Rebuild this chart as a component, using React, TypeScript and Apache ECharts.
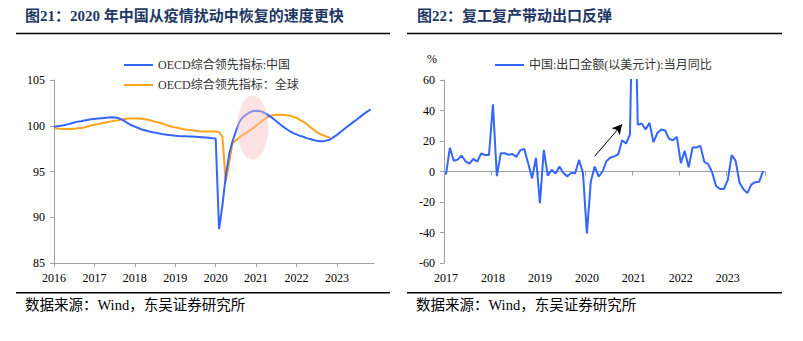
import React, { useEffect, useRef } from 'react';
import * as echarts from 'echarts';

// ---------- Left chart: OECD composite leading indicators (monthly, Jan 2016 – Dec 2023)
const CLI_YEARS = [2016, 2017, 2018, 2019, 2020, 2021, 2022, 2023];
const CLI_CHINA_NAME = 'OECD综合领先指标:中国';
const CLI_GLOBAL_NAME = 'OECD综合领先指标：全球';
const cliChina = [
  99.9, 99.95, 100.0, 100.05, 100.15, 100.25, 100.35, 100.45, 100.5, 100.58, 100.64, 100.7,
  100.74, 100.78, 100.82, 100.86, 100.9, 100.92, 100.9, 100.85, 100.7, 100.5, 100.25, 100.05,
  99.9, 99.75, 99.6, 99.5, 99.4, 99.32, 99.25, 99.17, 99.1, 99.05, 99.0, 98.95,
  98.9, 98.87, 98.85, 98.85, 98.83, 98.82, 98.8, 98.78, 98.75, 98.72, 98.68, 98.63,
  98.6, 88.7, 91.3, 94.5, 96.9, 98.3, 99.4, 100.4, 100.9, 101.2, 101.45, 101.6,
  101.65, 101.6, 101.5, 101.3, 101.05, 100.8, 100.5, 100.2, 99.9, 99.65, 99.4, 99.2,
  99.05, 98.9, 98.8, 98.65, 98.55, 98.45, 98.35, 98.3, 98.3, 98.4, 98.5, 98.75,
  99.0, 99.3, 99.6, 99.9, 100.15, 100.45, 100.7, 101.0, 101.3, 101.55, 101.8,
];
const cliGlobal = [
  99.75, 99.7, 99.67, 99.65, 99.65, 99.65, 99.68, 99.72, 99.75, 99.82, 99.92, 100.02,
  100.1, 100.18, 100.25, 100.32, 100.4, 100.48, 100.55, 100.6, 100.67, 100.73, 100.78, 100.8,
  100.8, 100.8, 100.77, 100.72, 100.65, 100.55, 100.45, 100.35, 100.25, 100.12, 100.0, 99.9,
  99.82, 99.75, 99.68, 99.6, 99.55, 99.5, 99.45, 99.4, 99.38, 99.38, 99.38, 99.38,
  99.38, 99.3, 98.8, 93.9, 96.0, 98.1, 98.4, 98.7, 99.0, 99.2, 99.45, 99.7,
  100.0, 100.3, 100.6, 100.85, 101.05, 101.15, 101.2, 101.2, 101.2, 101.15, 101.1, 101.0,
  100.85, 100.65, 100.45, 100.2, 99.9, 99.6, 99.3, 99.1, 98.95, 98.8, 98.7,
];
// highlighted recovery region: centre (month index, value) and half-extent (months, value units)
const HIGHLIGHT = { x: 59, y: 99.8, rx: 4.6, ry: 3.5 };

// ---------- Right chart: China export YoY (monthly, Feb 2017 – Nov 2023)
const EXPORT_NAME = '中国:出口金额(以美元计):当月同比';
const EXPORT_START = { year: 2017, month: 2 };
const exportYoY = [
  -2, 15.5, 7, 7.8, 10.5, 6.7, 5.2, 8.3, 6.5, 11.8, 10.8,
  10.8, 44, -3, 12, 12, 11, 11.5, 9.6, 14, 14.7, 5.4, -4.5,
  9, -20.7, 14.2, -2.7, 1.1, -1.3, 3.3, -1.0, -3.2, -0.9, -1.1, 7.6,
  -1, -40.6, -6.6, 3.2, -3.3, 0, 6.8, 9.2, 9.9, 11.2, 20.5, 18.3,
  24.3, 154.9, 30.6, 31.5, 27.6, 31.9, 19.2, 25.2, 27.5, 26.9, 21.4, 20.5,
  22.7, 5.5, 13.5, 2.8, 15.8, 15.8, 16.8, 6.3, 4.8, -0.6, -9.5, -11.5,
  -11.5, -5.5, 10.8, 7.0, -7.4, -11.6, -14.2, -8.6, -7.0, -6.8, 0.3,
];
// arrow annotation: from (month index, value) to (month index, value)
const ARROW = { from: [38, 10], to: [45, 31] };

const TITLE_LEFT = '图21：2020 年中国从疫情扰动中恢复的速度更快';
const TITLE_RIGHT = '图22：复工复产带动出口反弹';
const SOURCE = '数据来源：Wind，东吴证券研究所';

// categories
const cliCats: string[] = [];
CLI_YEARS.forEach((y) => {
  for (let m = 1; m <= 12; m++) cliCats.push(`${y}-${String(m).padStart(2, '0')}`);
});
const exportCats: string[] = exportYoY.map((_, i) => {
  const t = EXPORT_START.year * 12 + (EXPORT_START.month - 1) + i;
  return `${Math.floor(t / 12)}-${String((t % 12) + 1).padStart(2, '0')}`;
});

const SERIF = "'Liberation Serif', 'Times New Roman', 'Noto Sans CJK SC', serif";
const AXIS_GREY = '#a0a0a0';
const BLUE = '#3366ff';
const ORANGE = '#ffa31a';
const TITLE_COLOR = '#1f3864';

export default function App() {
  const ref = useRef<HTMLDivElement>(null);
  useEffect(() => {
    if (!ref.current) return;
    const chart = echarts.init(ref.current, undefined, { renderer: 'svg' });
    const yearTick = (i: number) => i % 12 === 0;
    const axisLabelStyle = { fontFamily: SERIF, fontSize: 12, color: '#000' };
    chart.setOption({
      animation: false,
      backgroundColor: '#fff',
      grid: [
        { left: 54, top: 80, width: 320, height: 183, outerBoundsMode: 'none', containLabel: false },
        { left: 444, top: 80, width: 321, height: 183, outerBoundsMode: 'none', containLabel: false },
      ],
      legend: [
        {
          data: [CLI_CHINA_NAME, CLI_GLOBAL_NAME],
          orient: 'vertical',
          left: 119,
          top: 54,
          itemWidth: 29,
          itemHeight: 2,
          itemGap: 8,
          icon: 'rect',
          selectedMode: false,
          textStyle: { fontFamily: SERIF, fontSize: 12, color: '#333' },
        },
        {
          data: [EXPORT_NAME],
          left: 490,
          top: 54,
          itemWidth: 29,
          itemHeight: 2,
          icon: 'rect',
          selectedMode: false,
          textStyle: { fontFamily: SERIF, fontSize: 12, color: '#333' },
        },
      ],
      xAxis: [
        {
          gridIndex: 0,
          type: 'category',
          boundaryGap: false,
          data: cliCats,
          axisLine: { lineStyle: { color: AXIS_GREY, width: 1 } },
          axisTick: { interval: yearTick, length: 4, lineStyle: { color: AXIS_GREY } },
          axisLabel: { ...axisLabelStyle, interval: yearTick, margin: 9, formatter: (v: string) => v.slice(0, 4) },
          splitLine: { show: false },
        },
        {
          // bottom labels of the right chart
          gridIndex: 1,
          type: 'category',
          position: 'bottom',
          boundaryGap: true,
          data: exportCats,
          axisLine: { show: false, onZero: false },
          axisTick: { show: false },
          axisLabel: { ...axisLabelStyle, interval: yearTick, margin: 9, formatter: (v: string) => v.slice(0, 4) },
          splitLine: { show: false },
        },
        {
          // zero line with year ticks of the right chart
          gridIndex: 1,
          type: 'category',
          position: 'top',
          boundaryGap: true,
          data: exportCats,
          axisLine: { show: true, onZero: true, lineStyle: { color: AXIS_GREY, width: 1 } },
          axisTick: { show: true, inside: true, interval: yearTick, length: 4, lineStyle: { color: AXIS_GREY } },
          axisLabel: { show: false },
          splitLine: { show: false },
        },
      ],
      yAxis: [
        {
          gridIndex: 0,
          type: 'value',
          min: 85,
          max: 105,
          interval: 5,
          axisLine: { show: true, lineStyle: { color: AXIS_GREY, width: 1 } },
          axisTick: { show: true, length: 4, lineStyle: { color: AXIS_GREY } },
          axisLabel: { ...axisLabelStyle, margin: 9 },
          splitLine: { show: false },
        },
        {
          gridIndex: 1,
          type: 'value',
          min: -60,
          max: 60,
          interval: 20,
          name: '%',
          nameLocation: 'end',
          nameGap: 15,
          nameTextStyle: { fontFamily: SERIF, fontSize: 12, color: '#000', align: 'right', padding: [0, 7, 0, 0] },
          axisLine: { show: true, lineStyle: { color: AXIS_GREY, width: 1 } },
          axisTick: { show: true, length: 4, lineStyle: { color: AXIS_GREY } },
          axisLabel: { ...axisLabelStyle, margin: 9 },
          splitLine: { show: false },
        },
      ],
      series: [
        {
          name: CLI_CHINA_NAME,
          type: 'line',
          xAxisIndex: 0,
          yAxisIndex: 0,
          data: cliChina,
          symbol: 'none',
          color: BLUE,
          lineStyle: { color: BLUE, width: 2 },
          z: 3,
        },
        {
          name: CLI_GLOBAL_NAME,
          type: 'line',
          xAxisIndex: 0,
          yAxisIndex: 0,
          data: cliGlobal,
          symbol: 'none',
          color: ORANGE,
          lineStyle: { color: ORANGE, width: 2 },
          z: 2,
        },
        {
          type: 'custom',
          xAxisIndex: 0,
          yAxisIndex: 0,
          silent: true,
          clip: false,
          z: 4,
          data: [[HIGHLIGHT.x, HIGHLIGHT.y]],
          encode: { x: 0, y: 1 },
          renderItem: (_params: any, api: any) => {
            const c = api.coord([api.value(0), api.value(1)]);
            const s = api.size([1, HIGHLIGHT.ry * 2]);
            return {
              type: 'ellipse',
              shape: { cx: c[0], cy: c[1], rx: s[0] * HIGHLIGHT.rx, ry: s[1] / 2 },
              style: { fill: 'rgba(248, 190, 190, 0.45)' },
            };
          },
        },
        {
          name: EXPORT_NAME,
          type: 'line',
          xAxisIndex: 1,
          yAxisIndex: 1,
          data: exportYoY,
          symbol: 'none',
          color: BLUE,
          lineStyle: { color: BLUE, width: 2 },
          markLine: {
            silent: true,
            symbol: ['none', 'arrow'],
            symbolSize: [8, 10],
            label: { show: false },
            lineStyle: { color: '#000', width: 1, type: 'solid' },
            emphasis: { disabled: true },
            data: [
              [
                { coord: [exportCats[ARROW.from[0]], ARROW.from[1]] },
                { coord: [exportCats[ARROW.to[0]], ARROW.to[1]] },
              ],
            ],
          },
        },
      ],
      graphic: [
        {
          type: 'text',
          left: 25,
          top: 8,
          style: { text: TITLE_LEFT, font: `bold 15px ${SERIF}`, fill: TITLE_COLOR },
        },
        {
          type: 'text',
          left: 417,
          top: 8,
          style: { text: TITLE_RIGHT, font: `bold 15px ${SERIF}`, fill: TITLE_COLOR },
        },
        { type: 'line', shape: { x1: 16, y1: 33.5, x2: 390, y2: 33.5 }, style: { stroke: '#000', lineWidth: 1.6 } },
        { type: 'line', shape: { x1: 407, y1: 33.5, x2: 782, y2: 33.5 }, style: { stroke: '#000', lineWidth: 1.6 } },
        { type: 'line', shape: { x1: 16, y1: 292.7, x2: 390, y2: 292.7 }, style: { stroke: '#000', lineWidth: 1.6 } },
        { type: 'line', shape: { x1: 407, y1: 292.7, x2: 782, y2: 292.7 }, style: { stroke: '#000', lineWidth: 1.6 } },
        {
          type: 'text',
          left: 25,
          top: 298,
          style: { text: SOURCE, font: `14.5px ${SERIF}`, fill: '#000' },
        },
        {
          type: 'text',
          left: 416,
          top: 298,
          style: { text: SOURCE, font: `14.5px ${SERIF}`, fill: '#000' },
        },
      ],
    });
    return () => chart.dispose();
  }, []);
  return (
    <div
      ref={ref}
      style={{ position: 'fixed', left: 0, top: 0, width: 803, height: 341, background: '#fff' }}
    />
  );
}
